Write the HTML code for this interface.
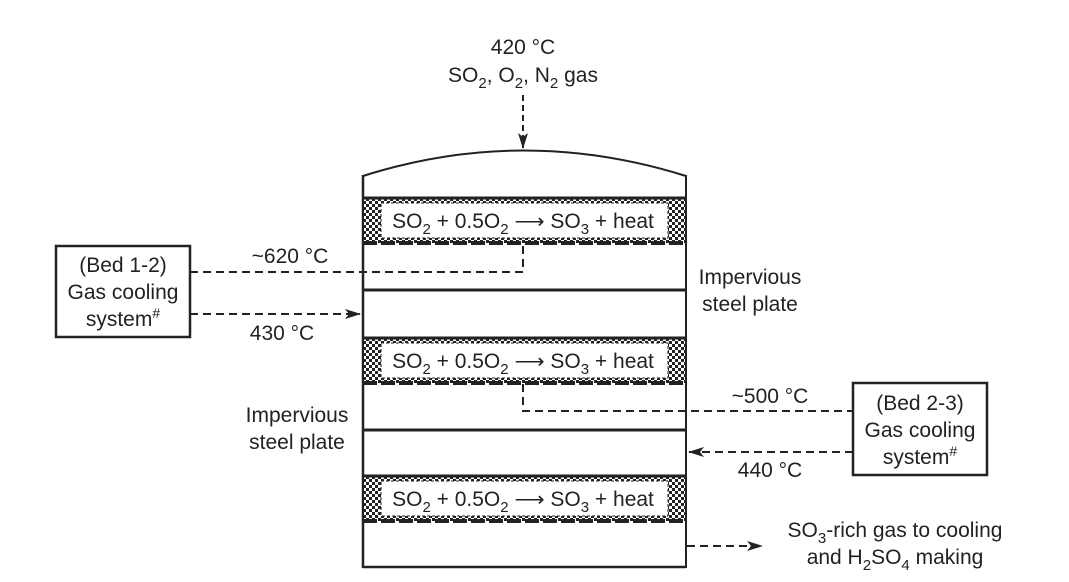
<!DOCTYPE html>
<html><head><style>body{margin:0;background:#fff}text{font-family:"Liberation Sans",sans-serif;fill:#222}</style></head><body>
<svg width="1069" height="577" viewBox="0 0 1069 577" xmlns="http://www.w3.org/2000/svg">
<defs>
<pattern id="ck" width="6" height="6" patternUnits="userSpaceOnUse"><rect width="6" height="6" fill="#fff"/><rect width="3" height="3" fill="#222"/><rect x="3" y="3" width="3" height="3" fill="#222"/></pattern>
<marker id="ah" markerWidth="16" markerHeight="10" refX="15" refY="5" orient="auto" markerUnits="userSpaceOnUse"><path d="M0,0 L16,5 L0,10 L4,5 Z" fill="#222"/></marker>
</defs>
<g font-size="21" text-anchor="middle">
<text x="523" y="54">420 °C</text>
<text x="523" y="82">SO<tspan font-size="15" dy="6">2</tspan><tspan dy="-6">, O</tspan><tspan font-size="15" dy="6">2</tspan><tspan dy="-6">, N</tspan><tspan font-size="15" dy="6">2</tspan><tspan dy="-6"> gas</tspan></text>
</g>
<line x1="523" y1="95" x2="523" y2="148" stroke="#222" stroke-width="2" stroke-dasharray="6,4" marker-end="url(#ah)"/>
<path d="M363,176 Q523,125 686,176" fill="none" stroke="#222" stroke-width="2"/>
<line x1="363" y1="175" x2="363" y2="568" stroke="#222" stroke-width="2.5"/>
<line x1="686" y1="175" x2="686" y2="568" stroke="#222" stroke-width="2"/>
<line x1="363" y1="567" x2="686" y2="567" stroke="#222" stroke-width="2.5"/>
<g stroke="#222" stroke-width="3">
<line x1="363" y1="290" x2="686" y2="290"/><line x1="363" y1="430" x2="686" y2="430"/>
</g>
<g id="beds">
<g>
<rect x="364" y="198" width="321" height="45" fill="url(#ck)"/>
<rect x="381" y="203" width="287" height="35" fill="#fff" stroke="#222" stroke-width="1" stroke-dasharray="3,2"/>
<line x1="363" y1="198" x2="686" y2="198" stroke="#222" stroke-width="3"/>
<line x1="363" y1="243" x2="686" y2="243" stroke="#222" stroke-width="4" stroke-dasharray="14,4"/>
<text x="523" y="228" font-size="21" text-anchor="middle">SO<tspan font-size="15" dy="6">2</tspan><tspan dy="-6"> + 0.5O</tspan><tspan font-size="15" dy="6">2</tspan><tspan dy="-6"> ⟶ SO</tspan><tspan font-size="15" dy="6">3</tspan><tspan dy="-6"> + heat</tspan></text>
</g>
<g transform="translate(0,140)">
<rect x="364" y="198" width="321" height="45" fill="url(#ck)"/>
<rect x="381" y="203" width="287" height="35" fill="#fff" stroke="#222" stroke-width="1" stroke-dasharray="3,2"/>
<line x1="363" y1="198" x2="686" y2="198" stroke="#222" stroke-width="3"/>
<line x1="363" y1="243" x2="686" y2="243" stroke="#222" stroke-width="4" stroke-dasharray="14,4"/>
<text x="523" y="228" font-size="21" text-anchor="middle">SO<tspan font-size="15" dy="6">2</tspan><tspan dy="-6"> + 0.5O</tspan><tspan font-size="15" dy="6">2</tspan><tspan dy="-6"> ⟶ SO</tspan><tspan font-size="15" dy="6">3</tspan><tspan dy="-6"> + heat</tspan></text>
</g>
<g transform="translate(0,278)">
<rect x="364" y="198" width="321" height="45" fill="url(#ck)"/>
<rect x="381" y="203" width="287" height="35" fill="#fff" stroke="#222" stroke-width="1" stroke-dasharray="3,2"/>
<line x1="363" y1="198" x2="686" y2="198" stroke="#222" stroke-width="3"/>
<line x1="363" y1="243" x2="686" y2="243" stroke="#222" stroke-width="4" stroke-dasharray="14,4"/>
<text x="523" y="228" font-size="21" text-anchor="middle">SO<tspan font-size="15" dy="6">2</tspan><tspan dy="-6"> + 0.5O</tspan><tspan font-size="15" dy="6">2</tspan><tspan dy="-6"> ⟶ SO</tspan><tspan font-size="15" dy="6">3</tspan><tspan dy="-6"> + heat</tspan></text>
</g>
</g>
<g fill="none" stroke="#222" stroke-width="2" stroke-dasharray="8,5">
<polyline points="190,272 523,272 523,244"/>
<line x1="190" y1="314" x2="360" y2="314" marker-end="url(#ah)"/>
<polyline points="523,384 523,411 853,411"/>
<line x1="853" y1="452" x2="689" y2="452" marker-end="url(#ah)"/>
<line x1="687" y1="546" x2="762" y2="546" marker-end="url(#ah)"/>
</g>
<rect x="56" y="246" width="134" height="91" fill="#fff" stroke="#222" stroke-width="2.5"/>
<rect x="853" y="383" width="134" height="92" fill="#fff" stroke="#222" stroke-width="2.5"/>
<g font-size="21" text-anchor="middle">
<text x="123" y="272">(Bed 1-2)</text><text x="123" y="299">Gas cooling</text><text x="123" y="326">system<tspan font-size="14" dy="-8">#</tspan></text>
<text x="920" y="410">(Bed 2-3)</text><text x="920" y="437">Gas cooling</text><text x="920" y="464">system<tspan font-size="14" dy="-8">#</tspan></text>
<text x="290" y="263">~620 °C</text>
<text x="282" y="340">430 °C</text>
<text x="750" y="284">Impervious</text><text x="750" y="311">steel plate</text>
<text x="297" y="422">Impervious</text><text x="297" y="449">steel plate</text>
<text x="770" y="403">~500 °C</text>
<text x="770" y="477">440 °C</text>
<text x="895" y="537">SO<tspan font-size="15" dy="6">3</tspan><tspan dy="-6">-rich gas to cooling</tspan></text>
<text x="895" y="564">and H<tspan font-size="15" dy="6">2</tspan><tspan dy="-6">SO</tspan><tspan font-size="15" dy="6">4</tspan><tspan dy="-6"> making</tspan></text>
</g>
</svg>
</body></html>
